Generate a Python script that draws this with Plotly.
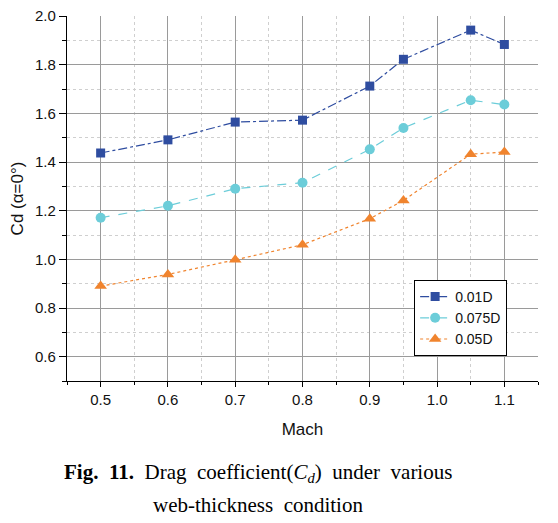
import plotly.graph_objects as go

mach = [0.5, 0.6, 0.7, 0.8, 0.9, 0.95, 1.05, 1.1]
cd_001 = [1.437, 1.491, 1.564, 1.572, 1.712, 1.822, 1.942, 1.883]
cd_0075 = [1.171, 1.220, 1.290, 1.315, 1.452, 1.540, 1.654, 1.636]
cd_005 = [0.890, 0.938, 0.998, 1.060, 1.167, 1.242, 1.432, 1.441]
names = ["0.01D", "0.075D", "0.05D"]
colors = ["#2F4DA0", "#6CCDD9", "#F0842E"]
x_ticks = [0.5, 0.6, 0.7, 0.8, 0.9, 1.0, 1.1]
y_ticks = [0.6, 0.8, 1.0, 1.2, 1.4, 1.6, 1.8, 2.0]

fig = go.Figure()
specs = [(cd_001, "square", "dashdot", 9), (cd_0075, "circle", "dash", 10), (cd_005, "triangle-up", "dot", 11)]
for (vals, sym, dash, ms), nm, c in zip(specs, names, colors):
    fig.add_trace(go.Scatter(
        x=mach, y=vals, name=nm, mode="lines+markers",
        line=dict(color=c, width=1.2, dash=dash),
        marker=dict(symbol=sym, size=ms, color=c),
    ))

sans = "Liberation Sans, Arial, sans-serif"
axis_font = dict(family=sans, size=15, color="#111")
fig.update_layout(
    width=550, height=515,
    margin=dict(l=59, r=20, t=8, b=142, autoexpand=False),
    paper_bgcolor="white", plot_bgcolor="white",
    font=axis_font,
    showlegend=True,
    legend=dict(x=0.737, y=(381 - 318) / 365, xanchor="left", yanchor="middle",
                bordercolor="black", borderwidth=1, bgcolor="white",
                font=dict(family=sans, size=14, color="#111"),
                tracegroupgap=0, itemwidth=30),
    xaxis=dict(range=[0.45, 1.15], tickvals=x_ticks, ticktext=[f"{v:.1f}" for v in x_ticks],
               showline=True, linecolor="black", linewidth=1.2,
               ticks="outside", ticklen=5, tickcolor="black",
               showgrid=True, gridcolor="#9a9a9a", gridwidth=1,
               minor=dict(dtick=0.05, tick0=0.45, ticks="outside", ticklen=3, tickcolor="black",
                          showgrid=True, gridcolor="#cfcfcf", griddash="dot", gridwidth=1),
               zeroline=False, ticklabeloverflow="allow", automargin=False,
               title=dict(text="Mach", font=dict(family=sans, size=17), standoff=16)),
    yaxis=dict(range=[0.5, 2.0], tickvals=y_ticks, ticktext=[f"{v:.1f}" for v in y_ticks],
               showline=True, linecolor="black", linewidth=1.2,
               ticks="outside", ticklen=7, tickcolor="black",
               showgrid=True, gridcolor="#9a9a9a", gridwidth=1,
               minor=dict(dtick=0.1, tick0=0.5, ticks="outside", ticklen=4, tickcolor="black",
                          showgrid=True, gridcolor="#cfcfcf", griddash="dot", gridwidth=1),
               zeroline=False, ticklabeloverflow="allow", automargin=False,
               title=dict(text="Cd (α=0°)", font=dict(family=sans, size=17), standoff=10)),
)

cap_font = dict(family="Liberation Serif, Times New Roman, serif", size=21, color="black")
fig.add_annotation(xref="paper", yref="paper", x=(258 - 67) / 471, y=(381 - 473) / 365,
                   xanchor="center", yanchor="middle", showarrow=False, font=cap_font,
                   text="<b>Fig.  11.</b>  Drag  coefficient(<i>C</i><sub><i>d</i></sub>)  under  various")
fig.add_annotation(xref="paper", yref="paper", x=(258 - 67) / 471, y=(381 - 505) / 365,
                   xanchor="center", yanchor="middle", showarrow=False, font=cap_font,
                   text="web-thickness  condition")

fig.write_html("out.html")
